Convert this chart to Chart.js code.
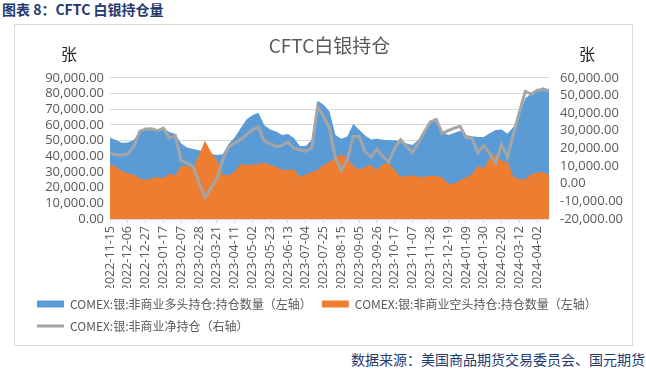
<!DOCTYPE html>
<html lang="zh-CN">
<head>
<meta charset="utf-8">
<title>CFTC 白银持仓量</title>
<script src="https://cdn.jsdelivr.net/npm/chart.js@4.4.1/dist/chart.umd.min.js"></script>
<style>
  html, body { margin: 0; padding: 0; background: #ffffff; }
  body { width: 646px; height: 372px; position: relative; overflow: hidden;
         font-family: "Noto Sans CJK SC", sans-serif; }
  #caption { position: absolute; left: 2px; top: 0; font-size: 14px; font-weight: bold;
             color: #1f3a70; line-height: 18px; white-space: nowrap; }
  #frame { position: absolute; left: 14px; top: 24px; width: 617px; height: 320px;
           border: 1px solid #d9d9d9; }
  #source { position: absolute; right: 1px; top: 350px; font-size: 14px;
            color: #1f3a70; line-height: 18px; white-space: nowrap; }
</style>
</head>
<body>
<div id="caption">图表 8：CFTC 白银持仓量</div>
<div id="frame"><canvas id="myChart" width="617" height="320"></canvas></div>
<div id="source">数据来源：美国商品期货交易委员会、国元期货</div>
<script>
'use strict';

/** @desc Report dates (weekly, Tuesdays) */
const DATES = [
  '2022-11-15', '2022-11-22', '2022-11-29', '2022-12-06', '2022-12-13', '2022-12-20',
  '2022-12-27', '2023-01-03', '2023-01-10', '2023-01-17', '2023-01-24', '2023-01-31',
  '2023-02-07', '2023-02-14', '2023-02-21', '2023-02-28', '2023-03-07', '2023-03-14',
  '2023-03-21', '2023-03-28', '2023-04-04', '2023-04-11', '2023-04-18', '2023-04-25',
  '2023-05-02', '2023-05-09', '2023-05-16', '2023-05-23', '2023-05-30', '2023-06-06',
  '2023-06-13', '2023-06-20', '2023-06-27', '2023-07-04', '2023-07-11', '2023-07-18',
  '2023-07-25', '2023-08-01', '2023-08-08', '2023-08-15', '2023-08-22', '2023-08-29',
  '2023-09-05', '2023-09-12', '2023-09-19', '2023-09-26', '2023-10-03', '2023-10-10',
  '2023-10-17', '2023-10-24', '2023-10-31', '2023-11-07', '2023-11-14', '2023-11-21',
  '2023-11-28', '2023-12-05', '2023-12-12', '2023-12-19', '2023-12-26', '2024-01-02',
  '2024-01-09', '2024-01-16', '2024-01-23', '2024-01-30', '2024-02-06', '2024-02-13',
  '2024-02-20', '2024-02-27', '2024-03-05', '2024-03-12', '2024-03-19', '2024-03-26',
  '2024-04-02', '2024-04-09', '2024-04-16'
];

/** @desc Non-commercial long positions (left axis) */
const LONG_POSITIONS = [
  51800, 50300, 48600, 48800, 50300, 55600, 57100, 57500, 56900, 57800,
  55400, 54100, 48200, 45600, 44600, 43900, 42900, 41400, 40800, 41200,
  47800, 52000, 57700, 63500, 66200, 67700, 59900, 57100, 55800, 53500,
  54100, 51600, 46500, 46500, 50300, 75400, 72800, 68500, 53500, 51100,
  52600, 60500, 56900, 53200, 50600, 51200, 50500, 50200, 50200, 49600,
  48200, 47100, 50600, 56000, 61100, 63000, 55600, 53500, 54800, 56300,
  53500, 52700, 52200, 52300, 54600, 56700, 57100, 54300, 58600, 66800,
  76900, 79800, 82000, 83900, 82400
];

/** @desc Non-commercial short positions (left axis) */
const SHORT_POSITIONS = [
  34800, 33300, 30600, 29100, 28200, 25900, 24800, 25900, 26700, 25900,
  29100, 27400, 34000, 33800, 32300, 40800, 49900, 42900, 37600, 28000,
  28000, 30100, 35000, 34400, 34800, 35200, 35900, 34400, 33300, 31200,
  31400, 31600, 27000, 28200, 29900, 31200, 34600, 36300, 39300, 41400,
  38200, 34100, 31400, 33300, 34400, 31200, 35000, 35500, 31000, 27000,
  27600, 27700, 27000, 27000, 27400, 27400, 26400, 22500, 22700, 24600,
  26500, 28500, 34100, 32200, 38800, 41500, 37000, 36500, 27000, 25300,
  25300, 28700, 29500, 29900, 28000
];

/** @desc Non-commercial net positions (right axis) */
const NET_POSITIONS = [
  17400, 16400, 16200, 17000, 20800, 29600, 31000, 31100, 30000, 31500,
  25900, 27200, 13200, 11700, 9800, 800, -7700, -2500, 2800, 13600,
  20800, 23000, 24900, 27700, 30600, 32100, 24300, 22700, 21100, 21700,
  23600, 20000, 19300, 18300, 20200, 43800, 37900, 31500, 14200, 7600,
  13400, 26800, 26800, 18000, 15200, 19600, 15300, 12400, 20200, 24900,
  21100, 17700, 23300, 29500, 35000, 36400, 28500, 30100, 31500, 32500,
  26400, 25800, 17500, 21600, 17000, 11700, 22100, 15000, 28000, 40400,
  52300, 50700, 53000, 53200, 52800
];

/** @desc Series names */
const SERIES_NAMES = [
  'COMEX:银:非商业多头持仓:持仓数量（左轴）',
  'COMEX:银:非商业空头持仓:持仓数量（左轴）',
  'COMEX:银:非商业净持仓（右轴）'
];

/** @desc A date label is shown every LABEL_STEP weeks */
const LABEL_STEP = 3;
const UNIT = '张';

const AXIS_FONT = {family: '"Open Sans", sans-serif', size: 13};
const TEXT_COLOR = '#595959';
const GRID_COLOR = '#d9d9d9';

/** @desc Formats axis values as 90,000.00 */
const formatValue = (value) => value.toLocaleString('en-US',
    {minimumFractionDigits: 2, maximumFractionDigits: 2});

/** @desc Datasets, orange drawn over blue, grey line on top */
const DATA = {
  labels: DATES,
  datasets: [{
    label: SERIES_NAMES[0],
    data: LONG_POSITIONS,
    yAxisID: 'yLeft',
    fill: 'origin',
    backgroundColor: '#5b9bd5',
    borderColor: '#5b9bd5',
    borderWidth: 0,
    pointRadius: 0,
    pointStyle: 'rect',
    order: 3
  }, {
    label: SERIES_NAMES[1],
    data: SHORT_POSITIONS,
    yAxisID: 'yLeft',
    fill: 'origin',
    backgroundColor: '#ed7d31',
    borderColor: '#ed7d31',
    borderWidth: 0,
    pointRadius: 0,
    pointStyle: 'rect',
    order: 2
  }, {
    label: SERIES_NAMES[2],
    data: NET_POSITIONS,
    yAxisID: 'yRight',
    fill: false,
    backgroundColor: '#a5a5a5',
    borderColor: '#a5a5a5',
    borderWidth: 3,
    pointRadius: 0,
    pointStyle: 'line',
    order: 1
  }]
};

const SCALES = {
  x: {
    offset: false,
    border: {display: true, color: GRID_COLOR},
    grid: {drawOnChartArea: false, drawTicks: true, tickLength: 4, color: GRID_COLOR},
    ticks: {
      autoSkip: false,
      maxRotation: 90,
      minRotation: 90,
      padding: 3,
      color: TEXT_COLOR,
      font: {family: '"Open Sans", sans-serif', size: 12.5},
      callback: (value, index) => (index % LABEL_STEP === 0 ? DATES[index] : null)
    },
    afterFit: (scale) => { scale.height = 69; }
  },
  yLeft: {
    position: 'left',
    min: 0,
    max: 90000,
    border: {display: false},
    grid: {color: GRID_COLOR, drawTicks: false},
    ticks: {stepSize: 10000, autoSkip: false, padding: 6, color: TEXT_COLOR,
            font: AXIS_FONT, callback: formatValue},
    afterFit: (scale) => { scale.width = 83; }
  },
  yRight: {
    position: 'right',
    min: -20000,
    max: 60000,
    border: {display: false},
    grid: {display: false, drawTicks: false},
    ticks: {stepSize: 10000, autoSkip: false, padding: 11, color: TEXT_COLOR,
            font: AXIS_FONT, callback: formatValue},
    afterFit: (scale) => { scale.width = 83; }
  }
};

const PLUGINS = {
  title: {
    display: true,
    text: 'CFTC白银持仓',
    color: TEXT_COLOR,
    font: {family: '"Noto Sans CJK SC", sans-serif', size: 19, weight: 'normal'},
    padding: {top: 9, bottom: 21}
  },
  legend: {
    position: 'bottom',
    align: 'start',
    labels: {
      usePointStyle: true,
      pointStyleWidth: 27,
      boxHeight: 7,
      padding: 10,
      color: TEXT_COLOR,
      font: {family: '"Noto Sans CJK SC", sans-serif', size: 12},
      sort: (a, b) => a.datasetIndex - b.datasetIndex
    }
  },
  tooltip: {enabled: false}
};

/** @desc Draws the unit 张 above both value axes */
const UNIT_PLUGIN = {
  id: 'unitLabels',
  afterDraw(chart) {
    const {ctx, chartArea} = chart;
    ctx.save();
    ctx.font = '16px "Noto Sans CJK SC", sans-serif';
    ctx.fillStyle = '#262626';
    ctx.textAlign = 'center';
    ctx.textBaseline = 'middle';
    ctx.fillText(UNIT, chartArea.left - 41, 29);
    ctx.fillText(UNIT, chartArea.right + 38, 29);
    ctx.restore();
  }
};

const CONFIG = {
  type: 'line',
  data: DATA,
  options: {
    responsive: false,
    animation: false,
    layout: {padding: {left: 12, right: 0, top: 0, bottom: 3}},
    elements: {line: {tension: 0}},
    scales: SCALES,
    plugins: PLUGINS
  },
  plugins: [UNIT_PLUGIN]
};

const CTX = document.getElementById('myChart').getContext('2d');
const myChart = new Chart(CTX, CONFIG);
</script>
</body>
</html>
